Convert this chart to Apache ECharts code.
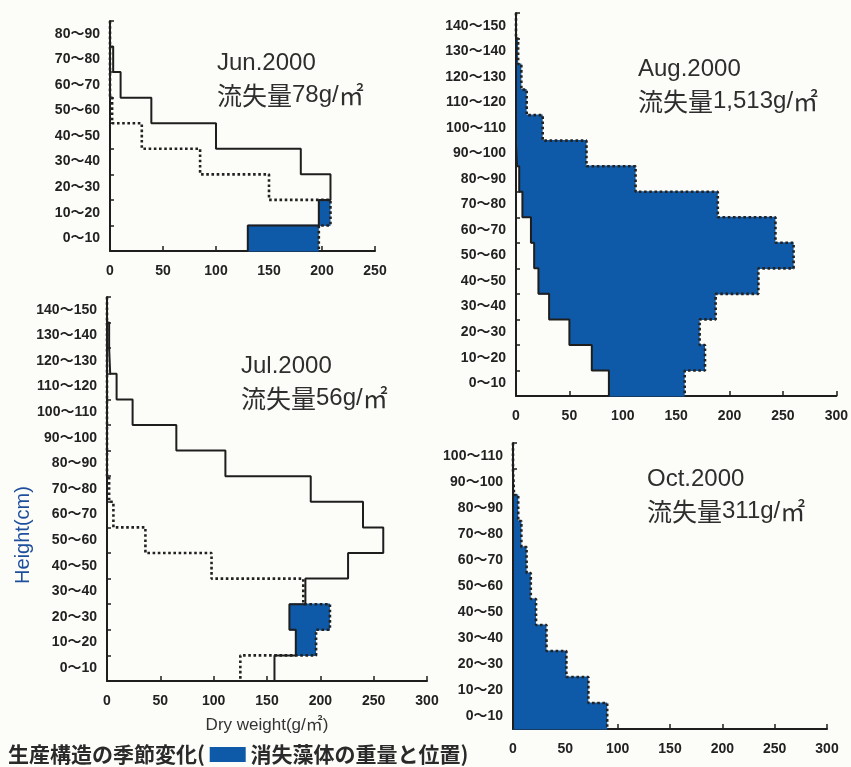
<!DOCTYPE html>
<html>
<head>
<meta charset="utf-8">
<script src="https://cdn.jsdelivr.net/npm/echarts@6/dist/echarts.min.js"></script>
<style>
html,body{margin:0;padding:0;background:#fcfcf8;}
#c{width:851px;height:767px;}
</style>
</head>
<body>
<div id="c"></div>
<script>
// ---- data ----
const binSize = 10;
const heightLabels = ['0～10','10～20','20～30','30～40','40～50','50～60','60～70','70～80','80～90','90～100','100～110','110～120','120～130','130～140','140～150'];
const xTicksJun = [0, 50, 100, 150, 200, 250];
const xTicksOther = [0, 50, 100, 150, 200, 250, 300];

// solid = current month, dotted = previous month (dry weight g/m2 per 10cm layer, bottom first)
const junSolid  = [130, 197, 208, 180, 100, 39, 10, 3, 0];
const junDotted = [197, 208, 150, 85, 30, 2, 0, 0, 0];

const julSolid  = [157, 177, 171, 186, 226, 259, 240, 191, 111, 65, 24, 9, 3, 2, 0];
const julDotted = [125, 196, 209, 184, 98, 36, 6, 2, 0, 0, 0, 0, 0, 0, 0];

const augSolid  = [87, 71, 50, 31, 21, 17, 14, 6, 3, 1, 0, 0, 0, 0, 0];
const augDotted = [158, 177, 172, 187, 227, 260, 243, 189, 112, 66, 25, 10, 5, 2, 0];

const octSolid  = [0, 0, 0, 0, 0, 0, 0, 0, 0, 0, 0];
const octDotted = [90, 72, 51, 32, 22, 17, 13, 8, 5, 1, 0];

const panelNames = ['Jun.2000', 'Jul.2000', 'Aug.2000', 'Oct.2000'];
const lossTexts  = ['78g/', '56g/', '1,513g/', '311g/'];

// ---- build ----
const BLUE = '#0f5aa8';
const INK = '#1e1e1e';
const LATIN = '"Liberation Sans", Arial, "Noto Sans CJK JP", sans-serif';
const CJK = '"Noto Sans CJK JP", "Liberation Sans", sans-serif';

function stepPoints(vals) {
  const pts = [];
  for (let i = vals.length - 1; i >= 0; i--) {
    pts.push([vals[i], (i + 1) * binSize]);
    pts.push([vals[i], i * binSize]);
  }
  return pts;
}

function renderLoss(params, api) {
  const row = api.value(0);
  const a = api.coord([api.value(1), row * binSize]);
  const b = api.coord([api.value(2), (row + 1) * binSize]);
  return {
    type: 'rect',
    shape: {x: a[0], y: b[1] - 0.6, width: b[0] - a[0], height: a[1] - b[1] + 1.2},
    style: {fill: BLUE}
  };
}

const panels = [
  {grid: {left: 110, top: 21, width: 265, height: 230}, ticks: xTicksJun, solid: junSolid, dotted: junDotted},
  {grid: {left: 107, top: 297, width: 320, height: 384}, ticks: xTicksOther, solid: julSolid, dotted: julDotted},
  {grid: {left: 516, top: 13, width: 322, height: 383}, ticks: xTicksOther, solid: augSolid, dotted: augDotted},
  {grid: {left: 513, top: 443, width: 314, height: 286}, ticks: xTicksOther, solid: octSolid, dotted: octDotted}
];

const grid = [], xAxis = [], yAxis = [], series = [];
panels.forEach((p, k) => {
  const n = p.solid.length;
  grid.push(Object.assign({containLabel: false}, p.grid));
  xAxis.push({
    type: 'value', gridIndex: k, min: p.ticks[0], max: p.ticks[p.ticks.length - 1],
    interval: p.ticks[1] - p.ticks[0],
    axisLine: {show: true, lineStyle: {color: INK, width: 2}},
    axisTick: {show: true, inside: true, length: 5, lineStyle: {color: INK, width: 1.5}},
    axisLabel: {color: '#222', fontSize: 14, fontWeight: 'bold', fontFamily: LATIN, margin: 13},
    splitLine: {show: false},
    name: k === 1 ? 'Dry weight(g/㎡)' : '',
    nameLocation: 'middle', nameGap: 36,
    nameTextStyle: {color: '#333', fontSize: 17, fontFamily: LATIN}
  });
  yAxis.push({
    type: 'category', gridIndex: k, data: heightLabels.slice(0, n), boundaryGap: true,
    axisLine: {show: true, lineStyle: {color: INK, width: 2}},
    axisTick: {show: true, inside: true, length: 4, lineStyle: {color: INK, width: 1.5}},
    axisLabel: {color: '#222', fontSize: 14, fontWeight: 'bold', fontFamily: LATIN, margin: 10}
  });
  yAxis.push({
    type: 'value', gridIndex: k, min: 0, max: n * binSize, show: false
  });
  const yVal = yAxis.length - 1;
  const lossRows = [];
  p.dotted.forEach((d, i) => { if (d > p.solid[i]) lossRows.push([i, p.solid[i], d]); });
  series.push({
    type: 'custom', xAxisIndex: k, yAxisIndex: yVal, data: lossRows,
    encode: {x: [1, 2], y: 0}, renderItem: renderLoss, silent: true, z: 1
  });
  series.push({
    type: 'line', xAxisIndex: k, yAxisIndex: yVal, data: stepPoints(p.dotted),
    symbol: 'none', lineStyle: {color: '#222', width: 2.6, type: [2.6, 2.6]}, z: 3, silent: true
  });
  series.push({
    type: 'line', xAxisIndex: k, yAxisIndex: yVal, data: stepPoints(p.solid),
    symbol: 'none', lineStyle: {color: INK, width: 2}, z: 4, silent: true
  });
});

const titlePos = [[217, 47], [241, 350], [638, 53], [647, 463]];
const graphic = [];
titlePos.forEach((pos, k) => {
  graphic.push({
    type: 'text', left: pos[0], top: pos[1],
    style: {
      text: panelNames[k] + '\n{c|流失量}{l|' + lossTexts[k] + '}{c|㎡}',
      fill: '#2e2e2e', font: '24px ' + LATIN, lineHeight: 32,
      rich: {
        c: {fontFamily: CJK, fontSize: 25, fill: '#2e2e2e', lineHeight: 32},
        l: {fontFamily: LATIN, fontSize: 24, fill: '#2e2e2e', lineHeight: 32}
      }
    }
  });
});
graphic.push({
  type: 'text', x: 23, y: 535, rotation: Math.PI / 2,
  style: {text: 'Height(cm)', fill: '#1d4f9c', font: '20px ' + LATIN, align: 'center', verticalAlign: 'middle'}
});
graphic.push({
  type: 'text', left: 8, top: 744,
  style: {
    text: '{t|生産構造の季節変化( }{b|}{t| 消失藻体の重量と位置)}',
    rich: {
      t: {fontFamily: CJK, fontSize: 21, fill: '#2a2a2a', fontWeight: 'bold'},
      b: {backgroundColor: BLUE, width: 36, height: 15}
    }
  }
});

const chart = echarts.init(document.getElementById('c'), null, {renderer: 'canvas'});
chart.setOption({
  backgroundColor: '#fcfcf8',
  animation: false,
  grid, xAxis, yAxis, series, graphic
});
</script>
</body>
</html>
